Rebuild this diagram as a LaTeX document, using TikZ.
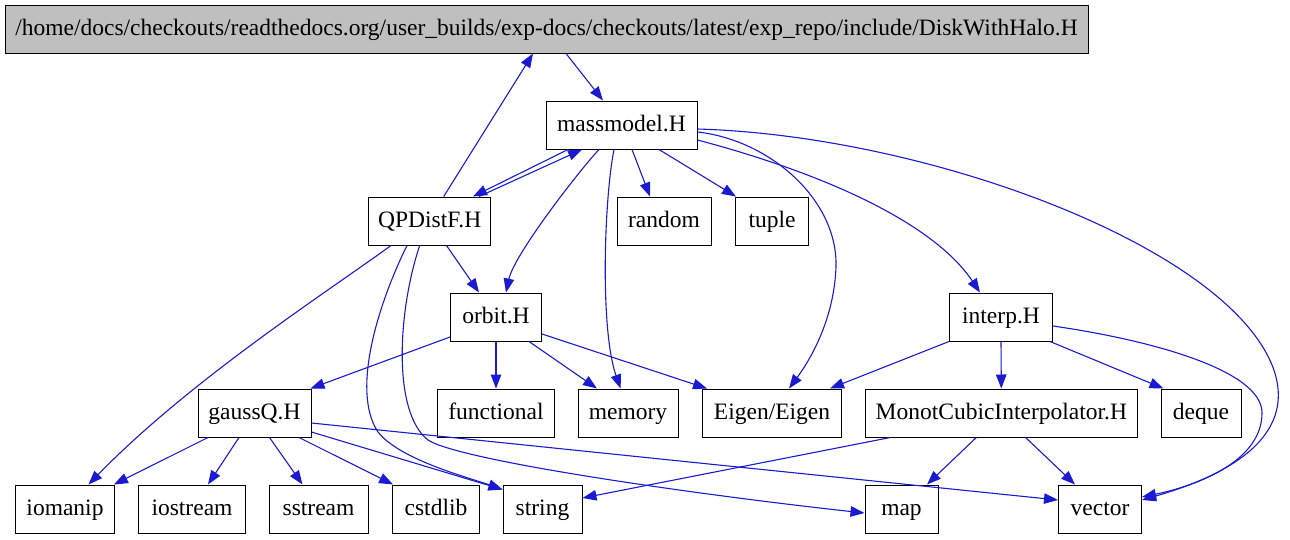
\documentclass[tikz,border=0pt]{standalone}
\usepackage{fontspec}
\setmainfont{Liberation Serif}
\usetikzlibrary{arrows.meta}
\definecolor{edgeblue}{RGB}{26,26,208}
\definecolor{topgray}{RGB}{191,191,191}
\tikzset{
  box/.style={draw=black, line width=1pt, minimum height=48pt, inner sep=0pt, text height=16pt, text depth=4pt, font=\fontsize{23.5}{26}\selectfont, anchor=center},
  edge/.style={draw=edgeblue, line width=1.1pt, -{Triangle[length=14pt,width=10.5pt]}},
}
\begin{document}
\begin{tikzpicture}[x=1pt,y=-1pt]
\useasboundingbox (0,0) rectangle (1290,539);
% nodes
\node[box, fill=topgray, minimum width=1083pt] (top) at (546.5,29) {/home/docs/checkouts/readthedocs.org/user\_builds/exp-docs/checkouts/latest/exp\_repo/include/DiskWithHalo.H};
\node[box, minimum width=151pt] (mass) at (621.5,125) {massmodel.H};
\node[box, minimum width=121.5pt] (qp) at (429.7,221) {QPDistF.H};
\node[box, minimum width=94pt] (random) at (664,221) {random};
\node[box, minimum width=72.5pt] (tuple) at (772,221) {tuple};
\node[box, minimum width=91pt] (orbit) at (496,317) {orbit.H};
\node[box, minimum width=103pt] (interp) at (1001,317) {interp.H};
\node[box, minimum width=113pt] (gauss) at (254.5,413) {gaussQ.H};
\node[box, minimum width=117.7pt] (functional) at (496,413) {functional};
\node[box, minimum width=100pt] (memory) at (628,413) {memory};
\node[box, minimum width=138.7pt] (eigen) at (772,413) {Eigen/Eigen};
\node[box, minimum width=272.6pt] (monot) at (1001.3,413) {MonotCubicInterpolator.H};
\node[box, minimum width=80pt] (deque) at (1201,413) {deque};
\node[box, minimum width=98.8pt] (iomanip) at (65,509) {iomanip};
\node[box, minimum width=107.7pt] (iostream) at (192,509) {iostream};
\node[box, minimum width=99pt] (sstream) at (318.5,509) {sstream};
\node[box, minimum width=86.8pt] (cstdlib) at (436,509) {cstdlib};
\node[box, minimum width=79pt] (string) at (542.5,509) {string};
\node[box, minimum width=73pt] (map) at (901.5,509) {map};
\node[box, minimum width=83pt] (vector) at (1100,509) {vector};
% edges
\draw[edge] ([xshift=19.5pt]top.south) -- ([xshift=-18.5pt]mass.north);
\draw[edge] ([xshift=14pt]qp.north) -- ([xshift=-13.5pt]top.south);
\draw[edge] ([xshift=-53.5pt]mass.south) -- ([xshift=43.3pt]qp.north);
\draw[edge] ([xshift=49.3pt]qp.north) -- ([xshift=-39.5pt]mass.south);
\draw[edge] ([xshift=-22.5pt]mass.south) .. controls (578,172) and (514,255) .. ([xshift=10pt]orbit.north);
\draw[edge] ([xshift=-7.5pt]mass.south) .. controls (604,200) and (600,330) .. ([xshift=-7.4pt]memory.north);
\draw[edge] ([xshift=10.5pt]mass.south) -- ([xshift=-14pt]random.north);
\draw[edge] ([xshift=37.5pt]mass.south) -- ([xshift=-36pt]tuple.north);
\draw[edge] ([yshift=-7pt]mass.east) .. controls (770,140) and (838,200) .. (836,267) .. controls (834,320) and (810,360) .. ([xshift=17pt]eigen.north);
\draw[edge] ([yshift=-15pt]mass.east) .. controls (830,175) and (935,225) .. ([xshift=-21pt]interp.north);
\draw[edge] ([yshift=-4pt]mass.east) .. controls (900,135) and (1150,220) .. (1242,320) .. controls (1290,372) and (1315,450) .. ([yshift=9pt]vector.east);
\draw[edge] ([xshift=-38.7pt]qp.south) .. controls (330,290) and (190,380) .. ([xshift=23.5pt]iomanip.north);
\draw[edge] ([xshift=-22.7pt]qp.south) .. controls (380,300) and (350,390) .. (378,432) .. controls (400,460) and (470,478) .. ([yshift=-5pt]string.north west);
\draw[edge] ([xshift=-10pt]qp.south) .. controls (398,310) and (392,412) .. (428,440) .. controls (460,461) and (700,495) .. ([yshift=-4pt]map.west);
\draw[edge] ([xshift=16.8pt]qp.south) -- ([xshift=-17pt]orbit.north);
\draw[edge] ([yshift=-20pt]orbit.west) -- ([xshift=-1pt]gauss.north east);
\draw[edge] (orbit.south) -- (functional.north);
\draw[edge] ([xshift=33pt]orbit.south) -- ([xshift=-31pt]memory.north);
\draw[edge] ([yshift=-17pt]orbit.east) -- ([xshift=-65pt]eigen.north);
\draw[edge] ([xshift=-46.5pt]gauss.south) -- ([xshift=-1pt]iomanip.north east);
\draw[edge] ([xshift=-15.5pt]gauss.south) -- ([xshift=16pt]iostream.north);
\draw[edge] ([xshift=15pt]gauss.south) -- ([xshift=-16pt]sstream.north);
\draw[edge] ([xshift=44.5pt]gauss.south) -- ([xshift=1pt]cstdlib.north west);
\draw[edge] ([yshift=-19pt]gauss.east) -- ([yshift=-5pt]string.north west);
\draw[edge] ([yshift=-10pt]gauss.east) -- ([yshift=9pt]vector.west);
\draw[edge] ([xshift=-111pt]monot.south) -- ([yshift=11pt]string.east);
\draw[edge] ([xshift=-25pt]monot.south) -- ([xshift=25.5pt]map.north);
\draw[edge] ([xshift=24.3pt]monot.south) -- ([xshift=-25pt]vector.north);
\draw[edge] (interp.south west) -- ([xshift=58pt]eigen.north);
\draw[edge] (interp.south) -- (monot.north);
\draw[edge] ([xshift=-3pt]interp.south east) -- ([xshift=3pt]deque.north west);
\draw[edge] ([yshift=-9pt]interp.east) .. controls (1150,340) and (1262,370) .. (1262,413) .. controls (1262,460) and (1200,485) .. ([yshift=12pt]vector.east);
\end{tikzpicture}
\end{document}
